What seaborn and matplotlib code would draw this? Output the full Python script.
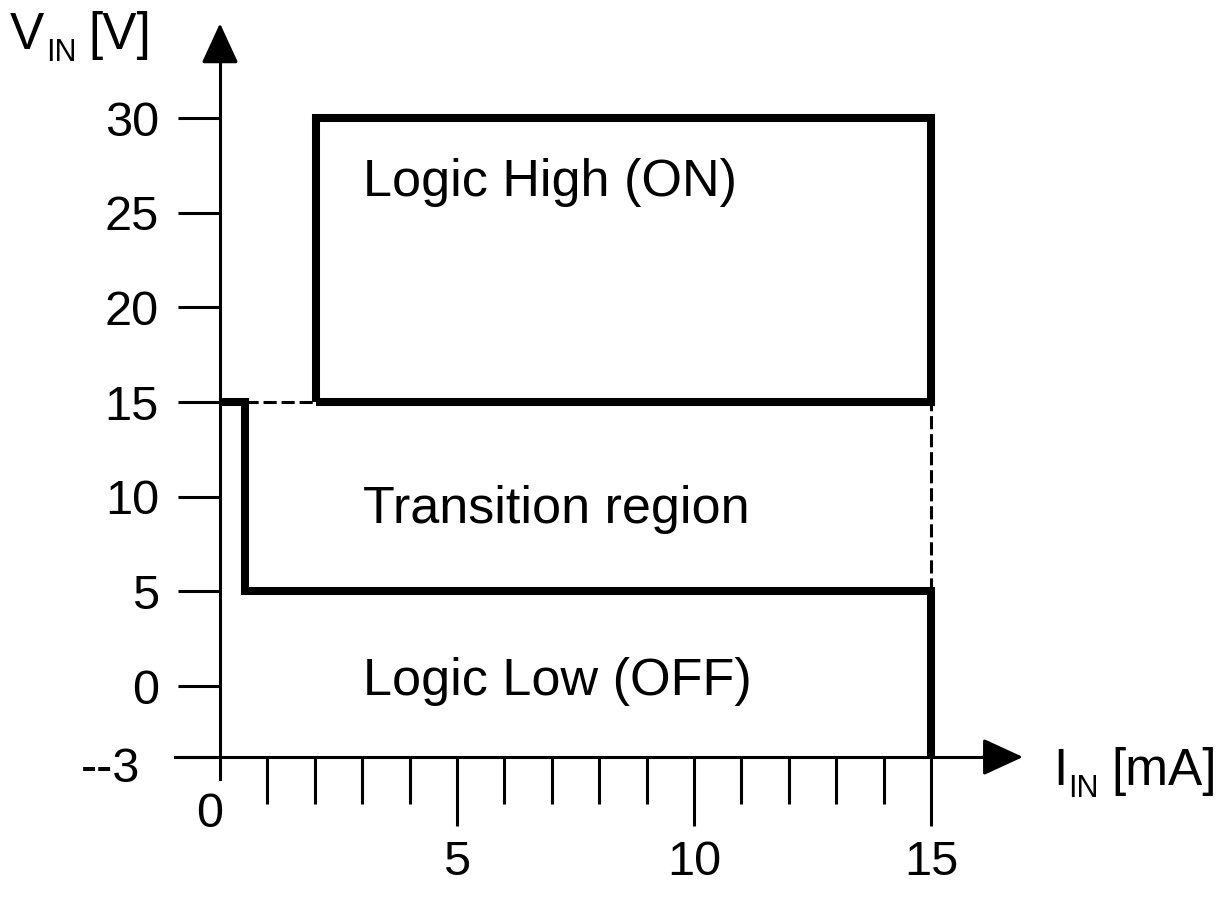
import seaborn as sns
import pandas as pd
import matplotlib.pyplot as plt

# Input characteristic: I_IN [mA] vs V_IN [V]
x_axis_level = -3.75          # where the I axis crosses the V axis (labelled "--3")
y_ticks = [0, 5, 10, 15, 20, 25, 30]
y_tick_labels = ["0", "5", "10", "15", "20", "25", "30"]
x_major = [5, 10, 15]
x_minor = [1, 2, 3, 4, 6, 7, 8, 9, 11, 12, 13, 14]

# Boundary of the "off" / transition region (thick step line)
low_i = [0, 0.53, 0.53, 15, 15]
low_v = [15, 15, 5, 5, x_axis_level]

# Logic High box
high_i = [2.03, 15, 15, 2.03, 2.03]
high_v = [15, 15, 30, 30, 15]

# Dashed connectors
dash_h_i = [0.53, 2.03]
dash_h_v = [15, 15]
dash_v_i = [15, 15]
dash_v_v = [5, 15]

regions = ["Logic High (ON)", "Transition region", "Logic Low (OFF)"]
region_v = [25.9, 8.6, -0.48]

sns.set_style("white")
plt.rcParams['font.family'] = ['Liberation Sans', 'DejaVu Sans']
for key in ["text.color", "axes.labelcolor", "xtick.color", "ytick.color"]:
    plt.rcParams[key] = "black"

fig = plt.figure(figsize=(12.23, 8.97), dpi=100)
ax = fig.add_axes([0, 0, 1, 1])
ax.set_xlim(-4.641, 21.160)
ax.set_ylim(-11.144, 36.233)

thick = 5.8
sns.lineplot(data=pd.DataFrame({"i": low_i, "v": low_v}), x="i", y="v",
             sort=False, estimator=None, color="black", linewidth=thick, ax=ax)
sns.lineplot(data=pd.DataFrame({"i": high_i, "v": high_v}), x="i", y="v",
             sort=False, estimator=None, color="black", linewidth=thick, ax=ax)
for ln in ax.lines[-2:]:
    ln.set_solid_joinstyle("miter")
    ln.set_solid_capstyle("butt")
for xs, ys in [(dash_h_i, dash_h_v), (dash_v_i, dash_v_v)]:
    sns.lineplot(x=xs, y=ys, sort=False, estimator=None, color="black",
                 linewidth=2.2, ax=ax)
    ax.lines[-1].set_dashes((4.3, 1.6))
    ax.lines[-1].set_dash_capstyle("butt")

# axes as arrows crossing at the origin
for s in ["top", "right"]:
    ax.spines[s].set_visible(False)
ax.spines["left"].set_position(("data", 0))
ax.spines["bottom"].set_position(("data", x_axis_level))
ax.spines["left"].set_bounds(-4.9, 33.5)
ax.spines["bottom"].set_bounds(-0.95, 16.5)
for s in ["left", "bottom"]:
    ax.spines[s].set_linewidth(2.2)
    ax.spines[s].set_color("black")

arrow = dict(arrowstyle="-|>,head_length=25,head_width=11.5", mutation_scale=1,
             color="black", linewidth=2.2, shrinkA=0, shrinkB=0)
ax.annotate("", xy=(0, 35.0), xytext=(0, 33.0), arrowprops=arrow)
ax.annotate("", xy=(16.94, x_axis_level), xytext=(16.1, x_axis_level), arrowprops=arrow)

# ticks
ax.set_yticks([x_axis_level] + y_ticks)
ax.set_yticklabels([""] + y_tick_labels)
ax.tick_params(axis="y", direction="out", length=30, width=2.2, pad=14,
               labelsize=35, left=True)
ax.set_xticks(x_major)
ax.set_xticklabels([str(v) for v in x_major])
ax.set_xticks(x_minor, minor=True)
ax.tick_params(axis="x", which="major", direction="out", length=50, width=2.2,
               pad=10, labelsize=35, bottom=True)
ax.tick_params(axis="x", which="minor", direction="out", length=34, width=2.2,
               bottom=True)
ax.text(-0.21, -6.8, "0", fontsize=35, ha="center", va="center")
ax.text(-1.68, -4.4, "--3", fontsize=35, ha="right", va="center")

# axis titles with small lowered subscripts
def sub_label(x, y, main, sub, rest):
    t = ax.text(x, y, main, fontsize=37, ha="left", va="baseline")
    s = ax.annotate(sub, xy=(1.0, 0.0), xycoords=t, xytext=(1, -5.5),
                    textcoords="offset points", fontsize=22,
                    ha="left", va="bottom")
    ax.annotate(rest, xy=(1.0, 0.0), xycoords=(s, t), xytext=(9, 0),
                textcoords="offset points", fontsize=37,
                ha="left", va="bottom")

sub_label(-4.43, 33.65, "V", "IN", "[V]")
sub_label(17.57, -5.23, "I", "IN", "[mA]")

for label, v in zip(regions, region_v):
    ax.text(3.02, v, label, fontsize=37.5, ha="left", va="baseline")

ax.set_xlabel("")
ax.set_ylabel("")
ax.grid(False)

fig.savefig("out.png", dpi=100)
